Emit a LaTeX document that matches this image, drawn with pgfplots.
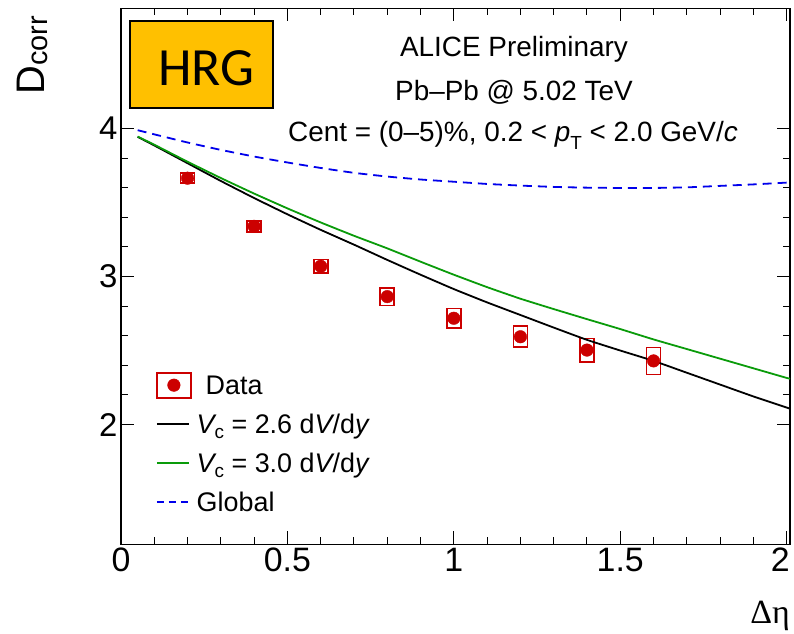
\documentclass[border=0pt]{standalone}
\usepackage{pgfplots}
\pgfplotsset{compat=1.18}
\usepackage{fontspec}
\setmainfont{Liberation Sans}
\newfontfamily\greekserif{Liberation Serif}
\newfontfamily\calibri{Carlito}
\definecolor{dred}{RGB}{204,0,0}
\definecolor{dgreen}{RGB}{10,155,10}
\definecolor{dblue}{RGB}{0,0,235}
\definecolor{hrgorange}{RGB}{255,192,0}

\pgfplotstableread{
x y
0.05 3.943
0.1 3.885
0.2 3.765
0.3 3.645
0.4 3.530
0.5 3.420
0.6 3.315
0.7 3.215
0.8 3.112
0.9 3.012
1.0 2.915
1.1 2.825
1.2 2.740
1.3 2.655
1.4 2.572
1.5 2.500
1.6 2.430
1.7 2.350
1.8 2.270
1.9 2.190
2.0 2.115
2.01 2.107
}\blacktab

\pgfplotstableread{
x y
0.05 3.945
0.1 3.890
0.2 3.775
0.3 3.665
0.4 3.560
0.5 3.460
0.6 3.365
0.7 3.275
0.8 3.190
0.9 3.100
1.0 3.012
1.1 2.928
1.2 2.850
1.3 2.780
1.4 2.712
1.5 2.645
1.6 2.575
1.7 2.510
1.8 2.445
1.9 2.380
2.0 2.315
2.01 2.310
}\greentab

\pgfplotstableread{
x y
0.05 3.988
0.1 3.960
0.2 3.905
0.3 3.855
0.4 3.810
0.5 3.770
0.6 3.733
0.7 3.700
0.8 3.675
0.9 3.655
1.0 3.640
1.1 3.625
1.2 3.614
1.3 3.605
1.4 3.600
1.5 3.598
1.6 3.598
1.7 3.602
1.8 3.612
1.9 3.622
2.0 3.634
2.01 3.636
}\globaltab

\pgfplotstableread{
x y
0.2 3.664
0.4 3.339
0.6 3.069
0.8 2.864
1.0 2.718
1.2 2.593
1.4 2.503
1.6 2.430
}\datatab

\begin{document}
\begin{tikzpicture}
\useasboundingbox (0,0) rectangle (794bp,634bp);
\begin{axis}[
  at={(121bp,89.5bp)}, anchor=south west,
  scale only axis, width=669bp, height=536bp,
  xmin=0, xmax=2.01, ymin=1.19, ymax=4.81,
  xtick={0,0.5,1,1.5,2}, ytick={2,3,4},
  xticklabels={0,0.5,1,1.5,\hspace*{-13bp}2},
  minor x tick num=4, minor y tick num=4,
  major tick length=13bp, minor tick length=7bp,
  tick align=inside,
  axis line style={line width=1.6bp},
  tick style={black, line width=1bp},
  /pgf/number format/assume math mode=true,
  xticklabel style={font=\fontsize{34}{34}\selectfont},
  yticklabel style={font=\fontsize{33}{33}\selectfont},
  unbounded coords=jump,
  legend style={at={(axis description cs:0.052,0.3284)}, anchor=north west,
    draw=none, fill=none, font=\fontsize{27}{27}\selectfont,
    inner sep=0pt, row sep=6bp, column sep=5bp,
    nodes={inner sep=0pt, text height=26bp, text depth=7bp}},
  legend cell align=left,
]
% systematic boxes
\addplot[dred, line width=1.7bp, forget plot] coordinates {
(0.179,3.630) (0.221,3.630) (0.221,3.698) (0.179,3.698) (0.179,3.630) (0.221,3.630) (0.2,nan)
(0.379,3.301) (0.421,3.301) (0.421,3.377) (0.379,3.377) (0.379,3.301) (0.421,3.301) (0.4,nan)
(0.579,3.023) (0.621,3.023) (0.621,3.115) (0.579,3.115) (0.579,3.023) (0.621,3.023) (0.6,nan)
(0.779,2.805) (0.821,2.805) (0.821,2.923) (0.779,2.923) (0.779,2.805) (0.821,2.805) (0.8,nan)
(0.979,2.652) (1.021,2.652) (1.021,2.784) (0.979,2.784) (0.979,2.652) (1.021,2.652) (1.0,nan)
(1.179,2.522) (1.221,2.522) (1.221,2.664) (1.179,2.664) (1.179,2.522) (1.221,2.522) (1.2,nan)
(1.379,2.424) (1.421,2.424) (1.421,2.582) (1.379,2.582) (1.379,2.424) (1.421,2.424) (1.4,nan)
(1.579,2.339) (1.621,2.339) (1.621,2.521) (1.579,2.521) (1.579,2.339) (1.621,2.339)
};
\addplot[only marks, mark=*, mark size=6.3bp, dred, forget plot] table {\datatab};
\addplot[black, line width=1.8bp, smooth, tension=0.3, forget plot] table {\blacktab};
\addplot[dgreen, line width=1.8bp, smooth, tension=0.3, forget plot] table {\greentab};
\addplot[dblue, line width=1.8bp, dash pattern=on 9bp off 6bp, smooth, tension=0.3, forget plot] table {\globaltab};

\addlegendimage{legend image code/.code={
  \draw[dred, line width=1.7bp] (0bp,-12.5bp) rectangle (34bp,12.5bp);
  \fill[dred] (17bp,0bp) circle (6.3bp);}}
\addlegendentry{\hspace{9bp}Data}
\addlegendimage{legend image code/.code={
  \draw[black, line width=1.8bp] (0bp,0bp) -- (32bp,0bp);}}
\addlegendentry{{\itshape V}\raisebox{-5bp}{\fontsize{19}{19}\selectfont c} = 2.6 d{\itshape V}/d{\itshape y}}
\addlegendimage{legend image code/.code={
  \draw[dgreen, line width=1.8bp] (0bp,0bp) -- (32bp,0bp);}}
\addlegendentry{{\itshape V}\raisebox{-5bp}{\fontsize{19}{19}\selectfont c} = 3.0 d{\itshape V}/d{\itshape y}}
\addlegendimage{legend image code/.code={
  \draw[dblue, line width=1.8bp, dash pattern=on 7bp off 5bp] (0bp,0bp) -- (32bp,0bp);}}
\addlegendentry{Global}
\end{axis}

% HRG box
\draw[fill=hrgorange, line width=2.5bp] (130bp,526bp) rectangle (273bp,613bp);
\node[anchor=base, inner sep=0pt, font=\calibri\fontsize{54}{54}\selectfont] at (206.5bp,548bp) {HRG};

% header text
\node[anchor=base, inner sep=0pt, font=\fontsize{28}{28}\selectfont] at (514bp,577bp) {ALICE Preliminary};
\node[anchor=base, inner sep=0pt, font=\fontsize{28}{28}\selectfont] at (514bp,533bp) {Pb--Pb @ 5.02 TeV};
\node[anchor=base, inner sep=0pt, font=\fontsize{28}{28}\selectfont] at (513bp,492bp)
  {Cent = (0--5)\%, 0.2 < {\itshape p}\raisebox{-8bp}{\fontsize{19}{19}\selectfont T} < 2.0 GeV/{\itshape c}};

% axis titles
\node[rotate=90, anchor=base east, inner sep=0pt, font=\fontsize{40}{40}\selectfont] at (44bp,618bp)
  {D\raisebox{-3bp}{\fontsize{29}{29}\selectfont corr}};
\node[anchor=base east, inner sep=0pt, font=\greekserif\fontsize{34}{34}\selectfont] at (790bp,11bp) {Δη};
\end{tikzpicture}
\end{document}
